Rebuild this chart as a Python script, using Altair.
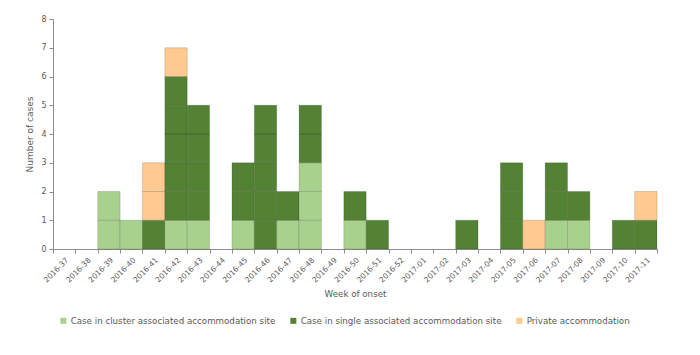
import altair as alt
import pandas as pd

weeks = ["2016-37", "2016-38", "2016-39", "2016-40", "2016-41", "2016-42", "2016-43",
         "2016-44", "2016-45", "2016-46", "2016-47", "2016-48", "2016-49", "2016-50",
         "2016-51", "2016-52", "2017-01", "2017-02", "2017-03", "2017-04", "2017-05",
         "2017-06", "2017-07", "2017-08", "2017-09", "2017-10", "2017-11"]
cluster = [0, 0, 2, 1, 0, 1, 1, 0, 1, 0, 1, 3, 0, 1, 0, 0, 0, 0, 0, 0, 0, 0, 1, 1, 0, 0, 0]
single = [0, 0, 0, 0, 1, 5, 4, 0, 2, 5, 1, 2, 0, 1, 1, 0, 0, 0, 1, 0, 3, 0, 2, 1, 0, 1, 1]
private = [0, 0, 0, 0, 2, 1, 0, 0, 0, 0, 0, 0, 0, 0, 0, 0, 0, 0, 0, 0, 0, 1, 0, 0, 0, 0, 1]

categories = ["Case in cluster associated accommodation site",
              "Case in single associated accommodation site",
              "Private accommodation"]
colors = ["#a9d18e", "#548235", "#ffc98f"]

rows = []
for i, w in enumerate(weeks):
    for ci, counts in enumerate([cluster, single, private]):
        for k in range(counts[i]):
            rows.append({"week": w, "category": categories[ci], "ord": ci, "cases": 1})
df = pd.DataFrame(rows)

font = "DejaVu Sans"

chart = alt.Chart(df).mark_bar(
    stroke="#000000", strokeOpacity=0.18, strokeWidth=0.8
).encode(
    x=alt.X("week:N", sort=weeks,
            scale=alt.Scale(domain=weeks, paddingInner=0, paddingOuter=0),
            axis=alt.Axis(title="Week of onset", labelAngle=-45, tickBand="extent",
                          labelFontSize=7.5, titleFontSize=8.7, titlePadding=6,
                          labelPadding=3, tickSize=4, labelColor="#595959",
                          titleColor="#595959", domainColor="#8c8c8c",
                          tickColor="#8c8c8c", titleFontWeight="normal")),
    y=alt.Y("cases:Q", stack="zero",
            scale=alt.Scale(domain=[0, 8]),
            axis=alt.Axis(title="Number of cases", values=list(range(9)), grid=False,
                          labelFontSize=8, titleFontSize=9, tickSize=4, labelPadding=3,
                          labelColor="#595959", titleColor="#595959",
                          domainColor="#8c8c8c", tickColor="#8c8c8c",
                          titleFontWeight="normal", titlePadding=6)),
    color=alt.Color("category:N", sort=categories,
                    scale=alt.Scale(domain=categories, range=colors),
                    legend=alt.Legend(title=None, orient="none", direction="horizontal",
                                      legendX=6, legendY=297, symbolType="square",
                                      symbolSize=36, symbolStrokeWidth=0,
                                      labelFontSize=8.7, labelColor="#595959",
                                      labelLimit=400,
                                      columnPadding=13, labelOffset=3, padding=0)),
    order=alt.Order("ord:Q", sort="ascending"),
).properties(
    width=604, height=230,
    autosize=alt.AutoSizeParams(type="none"),
    padding={"left": 45, "top": 11, "right": 20, "bottom": 85},
).configure(font=font).configure_view(stroke=None)

chart.save("out.html", embed_options={"renderer": "svg", "actions": False})
